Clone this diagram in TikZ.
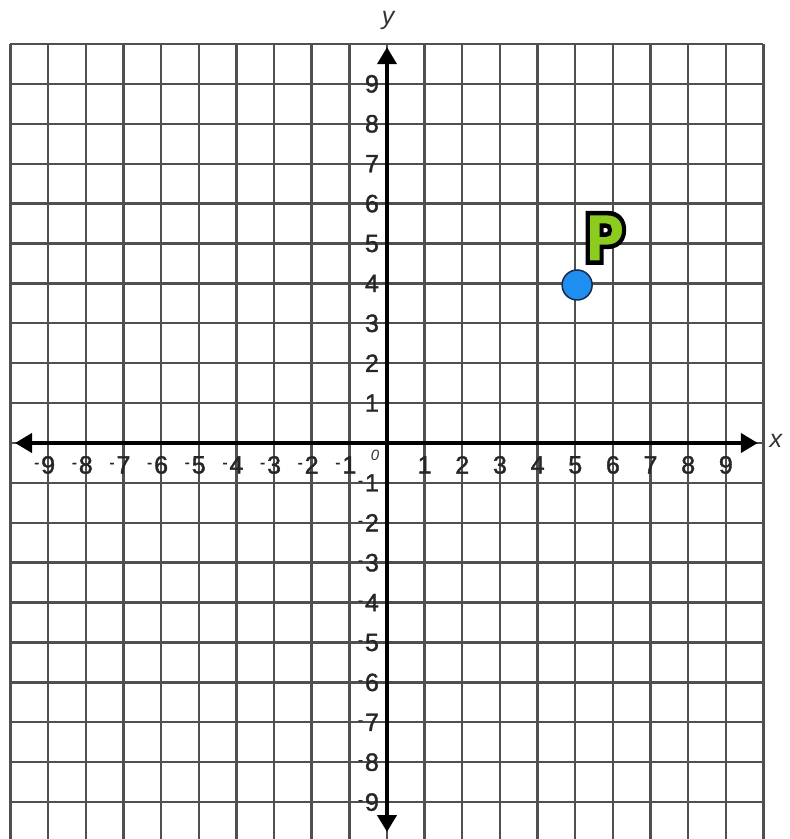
\documentclass[tikz,border=0pt]{standalone}
\usepackage{fontspec}
\setmainfont{Liberation Sans}
\newfontfamily\pfont[FakeBold=6.5]{Poppins Black}
\newfontfamily\tickfont[FakeBold=1.5]{Liberation Sans}
\usetikzlibrary{arrows.meta}
\definecolor{gridgray}{HTML}{505050}
\definecolor{pgreen}{HTML}{8CCB1E}
\definecolor{pblue}{HTML}{1E8EF0}
\definecolor{pnavy}{HTML}{1A2A4A}
\newcommand\negsgn{\llap{\raisebox{6pt}{\fontsize{15}{15}\selectfont -}\hspace{2pt}}}
\begin{document}
\begin{tikzpicture}[x=37.65pt,y=39.9pt,
  gridline/.style={draw=gridgray,line width=2.4pt},
  axisline/.style={draw=black,line width=4pt,{Triangle[length=17pt,width=19pt]}-{Triangle[length=17pt,width=19pt]}},
  ticklab/.style={font=\fontsize{25}{25}\selectfont\tickfont, inner sep=0pt, text=black!85},
  axislab/.style={font=\fontsize{25}{25}\selectfont\itshape, inner sep=0pt, text=black!80},
  ]
\useasboundingbox (-10.279,-9.925) rectangle (10.704,11.103);
\fill[white] (-10.279,-9.925) rectangle (10.704,11.103);
\begin{scope}
\clip (-10.279,-9.925) rectangle (10.704,11.103);
\foreach \i in {-10,...,10} {
  \draw[gridline] (\i,-10) -- (\i,10);
  \draw[gridline] (-10,\i) -- (10,\i);
}
\end{scope}
% axes
\coordinate (xleft) at (-9.88,0);
\coordinate (xright) at (9.85,0);
\coordinate (ytop) at (0,9.92);
\coordinate (ybot) at (0,-9.75);
\draw[axisline] (xleft) -- (xright);
\draw[axisline] (ybot) -- (ytop);
% tick labels on x axis
\foreach \i in {1,...,9} {
  \node[ticklab] (xp\i) at (\i,-0.55) {\i};
  \node[ticklab] (xn\i) at (-\i,-0.55) {\negsgn\i};
}
% tick labels on y axis
\foreach \i in {1,...,9} {
  \node[ticklab] (yp\i) at (-0.4,\i) {\i};
  \node[ticklab] (yn\i) at (-0.4,-\i) {\negsgn\i};
}
\node[font=\fontsize{15}{15}\selectfont\itshape, inner sep=0pt, text=black!80] (orig) at (-0.32,-0.30) {0};
\node[axislab] (xlab) at (10.33,0.05) {x};
\node[axislab] (ylab) at (0.03,10.6) {y};
% point P
\node[circle, fill=pblue, draw=pnavy, line width=1.5pt, minimum size=30pt, inner sep=0pt] (P) at (5.05,3.96) {};
\node[inner sep=0pt, xscale=0.9] (Plab) at (5.79,5.14) {\fontsize{70}{70}\selectfont\pfont\special{pdf:bcolor [0.55 0.8 0.12] [0 0 0]}P\special{pdf:ecolor}};
\end{tikzpicture}
\end{document}
